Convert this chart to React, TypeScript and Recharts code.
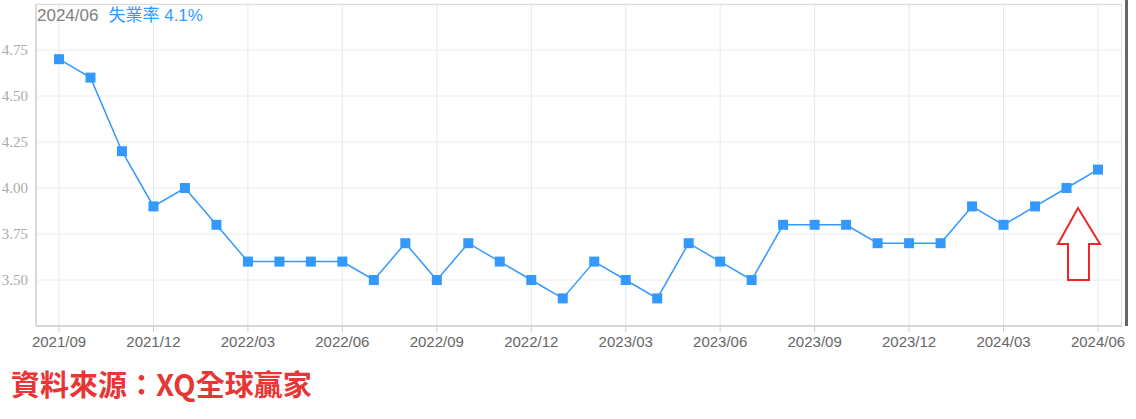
import React from "react";
import {
  CartesianGrid,
  Line,
  LineChart,
  ReferenceLine,
  XAxis,
  YAxis,
} from "recharts";

const months = [
  "2021/09", "2021/10", "2021/11", "2021/12",
  "2022/01", "2022/02", "2022/03", "2022/04", "2022/05", "2022/06",
  "2022/07", "2022/08", "2022/09", "2022/10", "2022/11", "2022/12",
  "2023/01", "2023/02", "2023/03", "2023/04", "2023/05", "2023/06",
  "2023/07", "2023/08", "2023/09", "2023/10", "2023/11", "2023/12",
  "2024/01", "2024/02", "2024/03", "2024/04", "2024/05", "2024/06",
];

const unemployment = [
  4.7, 4.6, 4.2, 3.9,
  4.0, 3.8, 3.6, 3.6, 3.6, 3.6,
  3.5, 3.7, 3.5, 3.7, 3.6, 3.5,
  3.4, 3.6, 3.5, 3.4, 3.7, 3.6,
  3.5, 3.8, 3.8, 3.8, 3.7, 3.7,
  3.7, 3.9, 3.8, 3.9, 4.0, 4.1,
];

const yTicks = [3.5, 3.75, 4.0, 4.25, 4.5, 4.75];

const data = months.map((m, i) => ({ month: m, rate: unemployment[i] }));
const labelled = months.filter((_, i) => i % 3 === 0);

const BLUE = "#3399ff";

const SquareDot = (props: any) => {
  const { cx, cy } = props;
  if (cx == null || cy == null) return null;
  return <rect x={cx - 5} y={cy - 5} width={10} height={10} fill={BLUE} />;
};

export default function App() {
  return (
    <div
      style={{
        position: "absolute",
        left: 0,
        top: 0,
        width: 1136,
        height: 419,
        background: "#fff",
        overflow: "hidden",
      }}
    >
      <LineChart
        width={1136}
        height={360}
        data={data}
        margin={{ top: 4, right: 15, left: 0, bottom: 0 }}
      >
        <CartesianGrid vertical={false} stroke="#ececec" />
        {labelled.map((m) => (
          <ReferenceLine key={m} x={m} stroke="#d6eef8" strokeWidth={1} />
        ))}
        <XAxis
          dataKey="month"
          interval={2}
          height={34}
          padding={{ left: 23, right: 23 }}
          axisLine={{ stroke: "#cccccc", strokeWidth: 1.5 }}
          tickLine={{ stroke: "#cccccc" }}
          tickSize={6}
          tickMargin={4}
          tick={{ fill: "#666", fontSize: 15, fontFamily: "Liberation Sans, Arial, sans-serif" }}
        />
        <YAxis
          domain={[3.25, 5.0]}
          ticks={yTicks}
          width={36}
          axisLine={{ stroke: "#cccccc", strokeWidth: 1.5 }}
          tickLine={false}
          tickFormatter={(v: number) => v.toFixed(2)}
          tick={{ fill: "#aaaaaa", fontSize: 15, fontFamily: "Liberation Serif, DejaVu Serif, serif" }}
        />
        <Line
          type="linear"
          dataKey="rate"
          stroke={BLUE}
          strokeWidth={1.5}
          dot={<SquareDot />}
          activeDot={false}
          isAnimationActive={false}
        />
      </LineChart>

      {/* plot frame top/right */}
      <div
        style={{
          position: "absolute",
          left: 36,
          top: 4,
          width: 1085,
          height: 322,
          borderTop: "1px solid #dddddd",
          borderRight: "1px solid #dddddd",
          pointerEvents: "none",
        }}
      />
      <div
        style={{
          position: "absolute",
          left: 1125,
          top: 0,
          width: 3,
          height: 326,
          background: "#666",
        }}
      />

      {/* header */}
      <div
        style={{
          position: "absolute",
          left: 37,
          top: 3,
          fontFamily: "Liberation Sans, Arial, 'Noto Sans CJK TC', sans-serif",
          fontSize: 17,
          lineHeight: "22px",
          whiteSpace: "nowrap",
        }}
      >
        <span style={{ color: "#808080" }}>2024/06</span>
        <span style={{ color: BLUE, marginLeft: 10 }}>
          <span style={{ fontFamily: "'Noto Sans CJK TC', sans-serif" }}>失業率</span> 4.1%
        </span>
      </div>

      {/* red arrow annotation */}
      <svg
        width={1136}
        height={419}
        style={{ position: "absolute", left: 0, top: 0, pointerEvents: "none" }}
      >
        <polygon
          points="1078,208 1100,244 1089,244 1089,280 1068,280 1068,244 1058,244"
          fill="#fff"
          stroke="#e8282b"
          strokeWidth={2}
          strokeLinejoin="miter"
        />
      </svg>

      {/* source */}
      <div
        style={{
          position: "absolute",
          left: 11,
          top: 364,
          color: "#e83535",
          fontFamily: "'Noto Sans CJK TC', sans-serif",
          fontWeight: 700,
          fontSize: 29,
          lineHeight: "38px",
          whiteSpace: "nowrap",
        }}
      >
        資料來源：XQ全球贏家
      </div>
    </div>
  );
}
